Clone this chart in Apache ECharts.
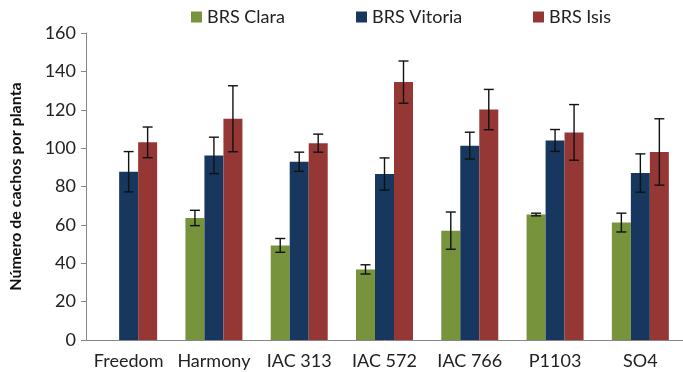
<!DOCTYPE html>
<html>
<head>
<meta charset="utf-8">
<script src="https://cdn.jsdelivr.net/npm/echarts@6/dist/echarts.min.js"></script>
<style>
html,body{margin:0;padding:0;background:#fff;}
#chart{width:683px;height:372px;}
</style>
</head>
<body>
<div id="chart"></div>
<script>
var categories = ['Freedom', 'Harmony', 'IAC 313', 'IAC 572', 'IAC 766', 'P1103', 'SO4'];
var seriesNames = ['BRS Clara', 'BRS Vitoria', 'BRS Isis'];
var claraValues = [null, 63.6, 49.3, 36.8, 57.0, 65.4, 61.2];
var claraErrors = [null, 4.0, 3.6, 2.4, 9.7, 0.7, 4.9];
var vitoriaValues = [87.7, 96.2, 92.9, 86.5, 101.3, 104.0, 87.0];
var vitoriaErrors = [10.5, 9.5, 5.0, 8.4, 7.0, 5.7, 10.0];
var isisValues = [103.0, 115.3, 102.6, 134.4, 120.1, 108.2, 98.0];
var isisErrors = [8.0, 17.2, 4.7, 11.0, 10.5, 14.5, 17.3];
var yTicks = [0, 20, 40, 60, 80, 100, 120, 140, 160];

var colors = ['#77933C', '#17375E', '#953735'];
var BAR_W = 19;
var FONT = 'Lato';

var allValues = [claraValues, vitoriaValues, isisValues];
var allErrors = [claraErrors, vitoriaErrors, isisErrors];

function errData(vals, errs) {
  var out = [];
  for (var i = 0; i < vals.length; i++) {
    if (vals[i] == null) continue;
    out.push([i, vals[i] - errs[i], vals[i] + errs[i]]);
  }
  return out;
}

function makeErrRenderer(k) {
  return function (params, api) {
    var xi = api.value(0), lo = api.value(1), hi = api.value(2);
    var pHi = api.coord([xi, hi]);
    var pLo = api.coord([xi, lo]);
    var x = pHi[0] + (k - 1) * BAR_W;
    var cap = 5;
    var st = { stroke: '#111', lineWidth: 1.4 };
    return {
      type: 'group',
      children: [
        { type: 'line', shape: { x1: x, y1: pHi[1], x2: x, y2: pLo[1] }, style: st },
        { type: 'line', shape: { x1: x - cap, y1: pHi[1], x2: x + cap, y2: pHi[1] }, style: st },
        { type: 'line', shape: { x1: x - cap, y1: pLo[1], x2: x + cap, y2: pLo[1] }, style: st }
      ]
    };
  };
}

var series = [];
for (var k = 0; k < 3; k++) {
  series.push({
    name: seriesNames[k],
    type: 'bar',
    data: allValues[k],
    barWidth: BAR_W,
    barGap: '0%',
    itemStyle: { color: colors[k] },
    z: 2
  });
}
for (var k2 = 0; k2 < 3; k2++) {
  series.push({
    type: 'custom',
    renderItem: makeErrRenderer(k2),
    data: errData(allValues[k2], allErrors[k2]),
    encode: { x: 0, y: [1, 2] },
    z: 5,
    silent: true
  });
}

var legendLefts = [186, 351, 528];
var legends = seriesNames.map(function (n, i) {
  return {
    data: [n],
    left: legendLefts[i],
    top: 3,
    itemWidth: 11,
    itemHeight: 11,
    icon: 'rect',
    textStyle: { fontFamily: FONT, fontSize: 18, color: '#222' }
  };
});

var chart = echarts.init(document.getElementById('chart'), null, { renderer: 'canvas' });
chart.setOption({
  animation: false,
  backgroundColor: '#fff',
  legend: legends,
  grid: { left: 85, right: -7, top: 33, bottom: 32, containLabel: false },
  xAxis: {
    type: 'category',
    data: categories,
    axisLine: { lineStyle: { color: '#868686', width: 1 } },
    axisTick: { show: false },
    axisLabel: { fontFamily: FONT, fontSize: 18, color: '#222', margin: 12, interval: 0 }
  },
  yAxis: {
    type: 'value',
    min: yTicks[0],
    max: yTicks[yTicks.length - 1],
    interval: yTicks[1] - yTicks[0],
    name: 'Número de cachos por planta',
    nameLocation: 'middle',
    nameGap: 62,
    nameTextStyle: { fontFamily: FONT, fontSize: 16, fontWeight: 'bold', color: '#111' },
    axisLine: { show: true, lineStyle: { color: '#868686', width: 1 } },
    axisTick: { show: true, length: 5, lineStyle: { color: '#868686' } },
    axisLabel: { fontFamily: FONT, fontSize: 18, color: '#222', margin: 10 },
    splitLine: { show: false }
  },
  series: series
});
</script>
</body>
</html>
